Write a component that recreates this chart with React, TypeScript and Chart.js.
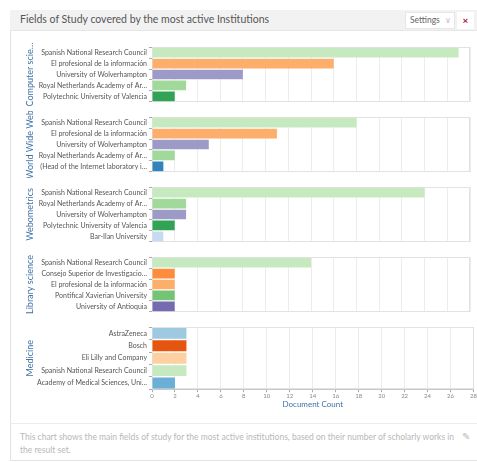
import React, { useEffect, useRef } from "react";
import { Chart, registerables } from "chart.js";

Chart.register(...registerables);

// ---------- data ----------
const fieldNames = ["Computer scie…", "World Wide Web", "Webometrics", "Library science", "Medicine"];

const compSciInstitutions = [
  "Spanish National Research Council",
  "El profesional de la información",
  "University of Wolverhampton",
  "Royal Netherlands Academy of Ar…",
  "Polytechnic University of Valencia",
];
const compSciCounts = [27, 16, 8, 3, 2];

const wwwInstitutions = [
  "Spanish National Research Council",
  "El profesional de la información",
  "University of Wolverhampton",
  "Royal Netherlands Academy of Ar…",
  "(Head of the Internet laboratory i…",
];
const wwwCounts = [18, 11, 5, 2, 1];

const webometricsInstitutions = [
  "Spanish National Research Council",
  "Royal Netherlands Academy of Ar…",
  "University of Wolverhampton",
  "Polytechnic University of Valencia",
  "Bar-Ilan University",
];
const webometricsCounts = [24, 3, 3, 2, 1];

const librarySciInstitutions = [
  "Spanish National Research Council",
  "Consejo Superior de Investigacio…",
  "El profesional de la información",
  "Pontifical Xavierian University",
  "University of Antioquia",
];
const librarySciCounts = [14, 2, 2, 2, 2];

const medicineInstitutions = [
  "AstraZeneca",
  "Bosch",
  "Eli Lilly and Company",
  "Spanish National Research Council",
  "Academy of Medical Sciences, Uni…",
];
const medicineCounts = [3, 3, 3, 3, 2];

const xAxisMax = 28;
const xAxisStep = 2;
const xAxisTitle = "Document Count";

// ---------- styles ----------
const institutionColors: Record<string, string> = {
  "Spanish National Research Council": "#c7e9c0",
  "El profesional de la información": "#fdae6b",
  "University of Wolverhampton": "#9e9ac8",
  "Royal Netherlands Academy of Ar…": "#a1d99b",
  "Polytechnic University of Valencia": "#31a354",
  "(Head of the Internet laboratory i…": "#3182bd",
  "Bar-Ilan University": "#c6dbef",
  "Consejo Superior de Investigacio…": "#fd8d3c",
  "Pontifical Xavierian University": "#74c476",
  "University of Antioquia": "#756bb1",
  AstraZeneca: "#9ecae1",
  Bosch: "#e6550d",
  "Eli Lilly and Company": "#fdd0a2",
  "Academy of Medical Sciences, Uni…": "#6baed6",
};

const FONT = "Lato, 'Open Sans', sans-serif";
const BLUE = "#3f72a6";

const panelBorder = {
  id: "panelBorder",
  beforeDatasetsDraw(chart: any) {
    const { ctx, chartArea } = chart;
    ctx.save();
    ctx.strokeStyle = "#e2e2e2";
    ctx.lineWidth = 1;
    ctx.strokeRect(
      Math.round(chartArea.left) + 0.5,
      Math.round(chartArea.top) + 0.5,
      Math.round(chartArea.right - chartArea.left) - 1,
      Math.round(chartArea.bottom - chartArea.top) - 1
    );
    ctx.restore();
  },
};

const CANVAS_W = 467;
const PLOT_H = 63;
const X_AXIS_H = 23;

function Panel(props: { field: string; labels: string[]; values: number[]; top: number; last: boolean }) {
  const ref = useRef<HTMLCanvasElement | null>(null);
  const { field, labels, values, top, last } = props;
  const height = PLOT_H + 4 + (last ? X_AXIS_H - 2 : 0);

  useEffect(() => {
    if (!ref.current) return;
    const chart = new Chart(ref.current, {
      type: "bar",
      data: {
        labels,
        datasets: [
          {
            data: values,
            backgroundColor: labels.map((l) => institutionColors[l]),
            barPercentage: 0.88,
            categoryPercentage: 1,
          },
        ],
      },
      options: {
        indexAxis: "y",
        animation: false,
        responsive: false,
        maintainAspectRatio: false,
        layout: { padding: { left: 15, right: last ? 3 : 7, top: 2, bottom: last ? 0 : 2 } },
        plugins: { legend: { display: false }, tooltip: { enabled: false } },
        scales: {
          x: {
            min: 0,
            max: xAxisMax,
            ticks: {
              stepSize: xAxisStep,
              display: last,
              font: { size: 6, family: FONT },
              color: "#888",
              padding: 0,
              maxRotation: 0,
              autoSkip: false,
            },
            grid: { color: "#ececec", drawTicks: last, tickLength: 3, tickColor: "#aaa" },
            border: { display: last, color: "#c8c8c8" },
            title: {
              display: last,
              text: xAxisTitle,
              color: BLUE,
              font: { size: 8, family: FONT },
              padding: { top: 0, bottom: 0 },
            },
          },
          y: {
            ticks: { font: { size: 7, family: FONT }, color: "#555", padding: 2, autoSkip: false },
            grid: { drawOnChartArea: false, drawTicks: true, tickLength: 3, tickColor: "#aaa" },
            border: { color: "#d8d8d8" },
            title: {
              display: true,
              text: field,
              color: BLUE,
              font: { size: 9, family: FONT },
              padding: { top: 0, bottom: 0 },
            },
            afterFit: (s: any) => {
              s.width = 127;
            },
          },
        },
      } as any,
      plugins: [panelBorder],
    });
    return () => chart.destroy();
  }, []);

  return (
    <canvas
      ref={ref}
      width={CANVAS_W}
      height={height}
      style={{ position: "absolute", left: 0, top: top - 2, width: CANVAS_W, height }}
    />
  );
}

export default function App() {
  const panels = [
    { labels: compSciInstitutions, values: compSciCounts },
    { labels: wwwInstitutions, values: wwwCounts },
    { labels: webometricsInstitutions, values: webometricsCounts },
    { labels: librarySciInstitutions, values: librarySciCounts },
    { labels: medicineInstitutions, values: medicineCounts },
  ];
  const tops = [43, 113, 183, 253, 323];
  return (
    <div
      style={{
        position: "fixed",
        left: 0,
        top: 0,
        width: 477,
        height: 462,
        overflow: "hidden",
        background: "#fff",
        fontFamily: FONT,
      }}
    >
      {/* card */}
      <div
        style={{
          position: "absolute",
          left: 10,
          top: 10,
          width: 480,
          height: 451,
          border: "1px solid #e2e2e2",
          boxSizing: "border-box",
        }}
      />
      {/* header */}
      <div
        style={{
          position: "absolute",
          left: 10,
          top: 10,
          width: 480,
          height: 21,
          background: "#f2f2f2",
          borderBottom: "1px solid #e6e6e6",
          boxSizing: "border-box",
        }}
      />
      <div style={{ position: "absolute", left: 20, top: 13, fontSize: 10.5, color: "#555", whiteSpace: "nowrap" }}>
        Fields of Study covered by the most active Institutions
      </div>
      <div
        style={{
          position: "absolute",
          left: 405,
          top: 12,
          width: 50,
          height: 17,
          background: "#fff",
          border: "1px solid #e6e6e6",
          boxSizing: "border-box",
          fontSize: 8.5,
          color: "#666",
          lineHeight: "15px",
          paddingLeft: 4,
          whiteSpace: "nowrap",
        }}
      >
        Settings <span style={{ color: "#bbb", marginLeft: 3, fontSize: 8 }}>∨</span>
      </div>
      <div
        style={{
          position: "absolute",
          left: 457,
          top: 12,
          width: 17,
          height: 17,
          background: "#fff",
          textAlign: "center",
          lineHeight: "16px",
          fontSize: 10,
          fontWeight: 700,
          color: "#b0103a",
        }}
      >
        ×
      </div>
      {/* charts */}
      <div style={{ position: "absolute", left: 10, top: 0, width: CANVAS_W, height: 462 }}>
        {panels.map((p, i) => (
          <Panel key={i} field={fieldNames[i]} labels={p.labels} values={p.values} top={tops[i]} last={i === panels.length - 1} />
        ))}
      </div>
      {/* footer */}
      <div
        style={{
          position: "absolute",
          left: 10,
          top: 423,
          width: 480,
          height: 1,
          background: "#ececec",
        }}
      />
      <div
        style={{
          position: "absolute",
          left: 20,
          top: 431,
          width: 440,
          fontSize: 8.5,
          lineHeight: "12.5px",
          color: "#b8b8b8",
        }}
      >
        This chart shows the main fields of study for the most active institutions, based on their number of scholarly works in
        the result set.
      </div>
      <div style={{ position: "absolute", left: 462, top: 430, fontSize: 10, color: "#bbb" }}>✎</div>
    </div>
  );
}
